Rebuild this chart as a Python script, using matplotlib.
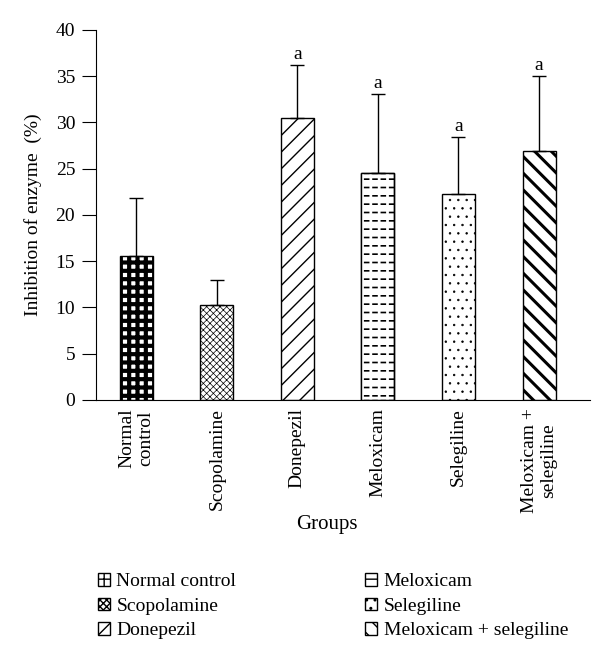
import numpy as np
import matplotlib
matplotlib.use("Agg")
import matplotlib.pyplot as plt
from matplotlib.patches import Patch

plt.rcParams["font.family"] = ["Liberation Serif", "DejaVu Serif"]
plt.rcParams["hatch.linewidth"] = 1.0

groups = ["Normal control", "Scopolamine", "Donepezil", "Meloxicam",
          "Selegiline", "Meloxicam + selegiline"]
tick_labels = ["Normal\ncontrol", "Scopolamine", "Donepezil", "Meloxicam",
               "Selegiline", "Meloxicam +\nselegiline"]
means = [15.6, 10.2, 30.5, 24.5, 22.2, 26.9]
errs = [6.2, 2.8, 5.7, 8.6, 6.2, 8.1]
marks = ["", "", "a", "a", "a", "a"]

# fill, hatch, hatch linewidth
styles = [("white", "++", 3.0),
          ("white", "xxxxx", 0.5),
          ("white", "//", 1.0),
          ("white", "--", 1.2),
          ("white", "..", 0.5),
          ("white", "\\\\", 2.2)]


def set_hlw(p, lw):
    if hasattr(p, "set_hatch_linewidth"):
        p.set_hatch_linewidth(lw)
    else:
        p._hatch_linewidth = lw


fig = plt.figure(figsize=(6, 6.62), dpi=100)
ax = fig.add_axes([0.16, 0.396, 0.823, 0.559])
x = np.arange(len(groups))
w = 0.41
for i, (fc, h, hlw) in enumerate(styles):
    bars = ax.bar(x[i], means[i], w, color=fc, edgecolor="black", hatch=h,
                  linewidth=1.0)
    for b in bars:
        set_hlw(b, hlw)
    if h == "--":
        # break the horizontal lines into dashes, then redraw the outline
        cut = ax.bar(x[i], means[i], w, fill=False, edgecolor="white",
                     hatch="||", linewidth=0)
        for b in cut:
            set_hlw(b, 2.0)
        ax.bar(x[i], means[i], w, fill=False, edgecolor="black", linewidth=1.0)
ax.errorbar(x, means, yerr=[np.zeros(len(x)), errs], fmt="none",
            ecolor="black", elinewidth=1.0, capsize=5, capthick=1.0)
for i, m in enumerate(marks):
    if m:
        ax.text(x[i], means[i] + errs[i] + 0.2, m, ha="center", va="bottom",
                fontsize=14)

ax.set_xlim(-0.5, 5.63)
ax.set_ylim(0, 40)
ax.set_yticks(np.arange(0, 41, 5))
ax.set_xticks(x)
ax.set_xticklabels(tick_labels, rotation=90, fontsize=14)
ax.tick_params(axis="y", labelsize=14, direction="out", length=10, pad=5)
ax.tick_params(axis="x", length=0, pad=6)
ax.spines["top"].set_visible(False)
ax.spines["right"].set_visible(False)
ax.set_ylabel("Inhibition of enzyme  (%)", fontsize=14, labelpad=10)
fig.text(0.545, 0.207, "Groups", ha="center", va="center", fontsize=15)

handles = []
for fc, h, hlw in styles:
    p = Patch(facecolor=fc, edgecolor="black", hatch=h)
    set_hlw(p, hlw)
    handles.append(p)
fig.legend(handles, groups, loc="upper left", bbox_to_anchor=(0.14, 0.155),
           ncol=2, frameon=False, fontsize=14, handlelength=0.62,
           handleheight=0.62, handletextpad=0.35, columnspacing=6.6,
           labelspacing=0.38, borderpad=0.2)

fig.savefig("out.png", dpi=100)
